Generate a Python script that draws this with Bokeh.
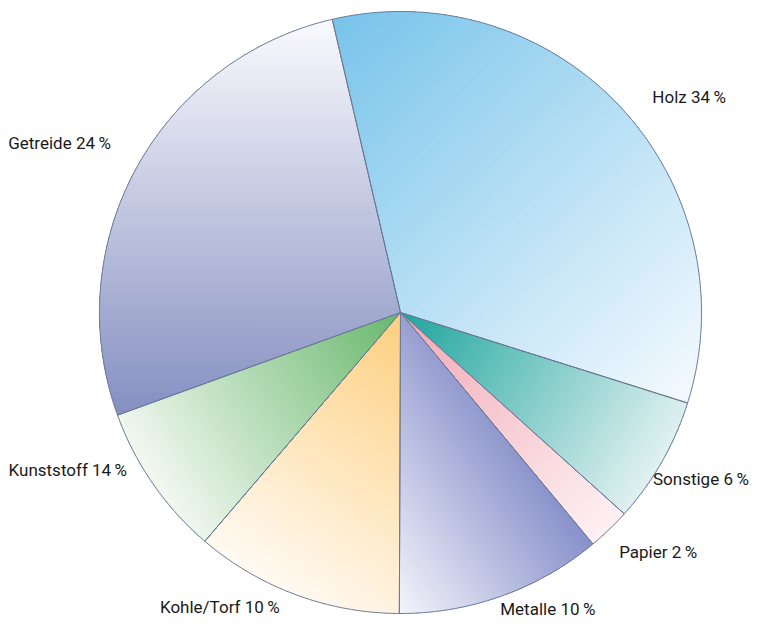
import numpy as np
from bokeh.plotting import figure
from bokeh.models import Range1d, ColumnDataSource
from bokeh.core.properties import value
from bokeh.embed import file_html
from bokeh.resources import INLINE

# ---- data (clockwise from the top, as drawn) ----
categories = ["Holz", "Sonstige", "Papier", "Metalle", "Kohle/Torf", "Kunststoff", "Getreide"]
label_pct = [34, 6, 2, 10, 10, 14, 24]
# share of the circle each slice occupies in the picture (%)
drawn_share = [33.5, 6.8, 2.3, 11.1, 11.2, 8.2, 26.9]

# ---- styles ----
color_dark = ["#78c4ea", "#1ea59d", "#f2a8b4", "#8790ca", "#fdcf7f", "#68b86d", "#858fc1"]
color_light = ["#f4fafe", "#e2f1f1", "#fdf1f3", "#f4f4fb", "#fffaf3", "#f3f8f1", "#fafafd"]
grad_dir = [(0.68, 0.73), (0.85, 0.53), (0.70, 0.72), (-0.83, 0.55), (-0.55, 0.83), (-0.84, 0.54), (0.0, -1.0)]
label_off = [(31, -11), (87, 17), (10, 23), (-2, 13), (-16, 12), (-26, -14), (-25, -26)]
label_align = ["left", "right", "left", "left", "right", "right", "right"]

W, H = 752, 619
CX, CY, R = 400.0, 312.0, 301.0
START_DEG = -13.1
NBANDS = 70


def hex2rgb(h):
    h = h.lstrip("#")
    return np.array([int(h[i:i + 2], 16) for i in (0, 2, 4)], dtype=float)


def rgb2hex(c):
    c = np.clip(np.round(c), 0, 255).astype(int)
    return "#%02x%02x%02x" % tuple(c)


def clip_half(poly, n, c):
    out = []
    m = len(poly)
    for i in range(m):
        a = poly[i]
        b = poly[(i + 1) % m]
        da = a @ n - c
        db = b @ n - c
        if da >= 0:
            out.append(a)
        if (da >= 0) != (db >= 0):
            t = da / (da - db)
            out.append(a + t * (b - a))
    return np.array(out)


def wedge_poly(a0, a1):
    npts = max(4, int(abs(a1 - a0) * 2))
    th = np.radians(np.linspace(a0, a1, npts))
    xs = CX + R * np.sin(th)
    ys = CY - R * np.cos(th)
    return np.vstack([np.array([[CX, CY]]), np.column_stack([xs, ys])])


fill_xs, fill_ys, fill_c = [], [], []
out_xs, out_ys = [], []
lab_x, lab_y, lab_t, lab_a = [], [], [], []

angle = START_DEG
for i, cat in enumerate(categories):
    span = drawn_share[i] / 100.0 * 360.0
    a0, a1 = angle, angle + span
    angle = a1
    poly = wedge_poly(a0, a1)
    out_xs.append(list(poly[:, 0]))
    out_ys.append(list(poly[:, 1]))

    n = np.array(grad_dir[i], dtype=float)
    n = n / np.linalg.norm(n)
    proj = poly @ n
    tmin, tmax = proj.min(), proj.max()
    c0 = hex2rgb(color_dark[i])
    c1 = hex2rgb(color_light[i])
    for k in range(NBANDS):
        t = tmin + (tmax - tmin) * k / NBANDS
        sub = clip_half(poly, n, t) if k > 0 else poly
        if len(sub) < 3:
            continue
        f = (k + 0.5) / NBANDS
        fill_xs.append(list(sub[:, 0]))
        fill_ys.append(list(sub[:, 1]))
        fill_c.append(rgb2hex(c0 + (c1 - c0) * f))

    mid = np.radians((a0 + a1) / 2)
    ax = CX + R * np.sin(mid) + label_off[i][0]
    ay = CY - R * np.cos(mid) + label_off[i][1]
    lab_x.append(ax)
    lab_y.append(ay)
    lab_t.append(f"{cat} {label_pct[i]}\u2009%")
    lab_a.append(label_align[i])

p = figure(width=W, height=H, x_range=Range1d(0, W), y_range=Range1d(H, 0),
           output_backend="svg", toolbar_location=None, x_axis_type=None, y_axis_type=None,
           min_border=0)
p.grid.visible = False
p.outline_line_color = None
p.background_fill_color = "white"

p.patches(xs=fill_xs, ys=fill_ys, fill_color=fill_c, line_color=None)
p.patches(xs=out_xs, ys=out_ys, fill_alpha=0, line_color="#6d7b9a", line_width=1)

for al in ("left", "right"):
    idx = [j for j in range(len(lab_t)) if lab_a[j] == al]
    src = ColumnDataSource(dict(x=[lab_x[j] for j in idx], y=[lab_y[j] for j in idx],
                                t=[lab_t[j] for j in idx]))
    p.text(x="x", y="y", text="t", source=src, text_align=al, text_baseline="middle",
           text_font=value("Roboto"), text_font_size="17px", text_color="#1a1a1a")

open("out.html", "w").write(file_html(p, INLINE))
